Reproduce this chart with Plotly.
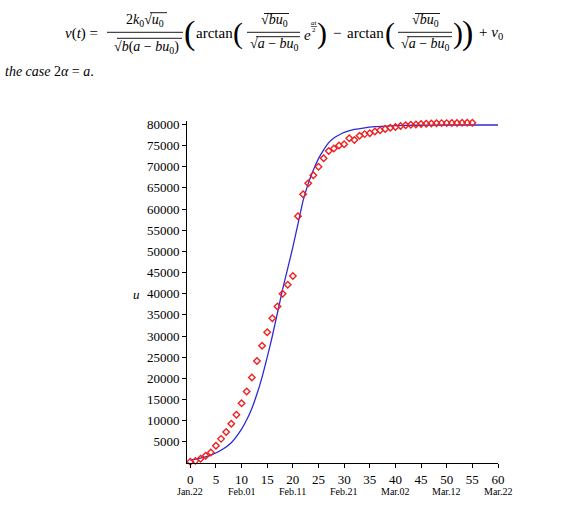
import plotly.graph_objects as go

# ---------------- data ----------------
days = list(range(56))
cases = [300, 500, 1000, 1700, 2500, 4100, 5700, 7300, 9300, 11400,
         14100, 16900, 20200, 24100, 27700, 30900, 34200, 37000, 40000, 42100,
         44200, 58300, 63500, 66100, 68000, 70000, 72000, 73700, 74300, 75000,
         75300, 76700, 76300, 77300, 77700, 77900, 78300, 78600, 78900, 79200,
         79400, 79600, 79800, 79900, 80000, 80100, 80150, 80200, 80250, 80300,
         80300, 80350, 80350, 80400, 80400, 80400]

model_days = [0, 2, 4, 6, 8, 10, 11, 12, 13, 14, 15, 16, 17, 18, 19, 20, 21,
              22, 23, 24, 25, 26, 27, 28, 29, 30, 32, 34, 36, 38, 40, 44, 50, 60]
model_vals = [700, 1150, 1850, 3000, 4800, 8000, 10200, 12900, 16300, 20300,
              25000, 30000, 35500, 41000, 46000, 51000, 56500, 62000, 66000,
              69200, 71900, 74000, 75700, 76800, 77500, 78100, 78800, 79200,
              79450, 79600, 79700, 79800, 79850, 79850]

x_ticks = list(range(0, 61, 5))
y_ticks = list(range(5000, 80001, 5000))
y_labels = [str(v) for v in y_ticks]
date_pos = [0, 10, 20, 30, 40, 50, 60]
date_labels = ["Jan.22", "Feb.01", "Feb.11", "Feb.21", "Mar.02", "Mar.12", "Mar.22"]

# ---------------- figure ----------------
L, R, T, B = 187, 498, 121, 463
W, H = R - L, B - T


def px(x):
    return (x - L) / W


def py(y):
    return (B - y) / H


SERIF = "Liberation Serif"

fig = go.Figure()
fig.add_trace(go.Scatter(x=model_days, y=model_vals, mode="lines",
                         line=dict(color="#2b2bd6", width=1.3, shape="spline", smoothing=0.6),
                         hoverinfo="skip"))
fig.add_trace(go.Scatter(x=days, y=cases, mode="markers", cliponaxis=False,
                         marker=dict(symbol="diamond-open", size=5,
                                     line=dict(color="#f02020", width=1.4),
                                     color="#f02020")))

ax = dict(showline=True, linecolor="black", linewidth=1, ticks="outside",
          ticklen=4, tickwidth=1, tickcolor="black", showgrid=False,
          zeroline=False, tickfont=dict(family=SERIF, size=13, color="black"))
fig.update_xaxes(range=[-0.64, 60], tickvals=x_ticks, **ax)
fig.update_yaxes(range=[0, 80800], tickvals=y_ticks, ticktext=y_labels, **ax)

ann = []
for d, lab in zip(date_pos, date_labels):
    ann.append(dict(x=d, y=0, xref="x", yref="paper", yshift=-28, text=lab,
                    showarrow=False, xanchor="center", yanchor="middle",
                    font=dict(family=SERIF, size=10, color="black")))
ann.append(dict(x=px(136), y=py(294), xref="paper", yref="paper", text="<i>u</i>",
                showarrow=False, xanchor="center", yanchor="middle",
                font=dict(family=SERIF, size=13, color="black")))


def txt(x, y, s, size=15, anchor="center"):
    ann.append(dict(x=px(x), y=py(y), xref="paper", yref="paper", text=s,
                    showarrow=False, xanchor=anchor, yanchor="middle",
                    font=dict(family=SERIF, size=size, color="black")))


shapes = []


def hline(x0, x1, y, w=0.9):
    shapes.append(dict(type="line", xref="paper", yref="paper", x0=px(x0), x1=px(x1),
                       y0=py(y), y1=py(y), line=dict(color="black", width=w)))


# formula
txt(81, 33, "<i>v</i>(<i>t</i>) =")
txt(145, 21, "2<i>k</i><sub>0</sub>√<i>u</i><sub>0</sub>", 14)
hline(150, 167, 12.7)
hline(107, 183, 32.3)
txt(146, 47, "√<i>b</i>(<i>a</i> − <i>bu</i><sub>0</sub>)", 14)
hline(117, 182, 38.3)
txt(189, 33, "(", 34)
txt(214, 33, "arctan")
txt(238, 33, "(", 30)
txt(274, 21, "√<i>bu</i><sub>0</sub>", 14)
hline(264, 289, 13.5)
hline(247, 300, 32.3)
txt(274, 45, "√<i>a</i> − <i>bu</i><sub>0</sub>", 14)
hline(256, 300, 36.7)
txt(307, 35, "<i>e</i>", 15)
txt(314, 23, "<i>at</i>", 7)
hline(311, 317, 26.5, 0.6)
txt(314, 30, "2", 7)
txt(322, 33, ")", 30)
txt(337, 33, "−")
txt(365, 33, "arctan")
txt(390, 33, "(", 30)
txt(425, 21, "√<i>bu</i><sub>0</sub>", 14)
hline(415, 440, 13.5)
hline(398, 452, 32.3)
txt(425, 45, "√<i>a</i> − <i>bu</i><sub>0</sub>", 14)
hline(407, 452, 36.7)
txt(458, 33, ")", 30)
txt(467, 33, ")", 34)
txt(491, 33, "+ <i>v</i><sub>0</sub>")
txt(3, 72, "<i>the case</i> 2<i>α</i> = <i>a</i>.", 14, anchor="left")

fig.update_layout(width=587, height=525, margin=dict(l=L, r=587 - R, t=T, b=525 - B),
                  plot_bgcolor="white", paper_bgcolor="white", showlegend=False,
                  annotations=ann, shapes=shapes)

fig.write_html("out.html")
